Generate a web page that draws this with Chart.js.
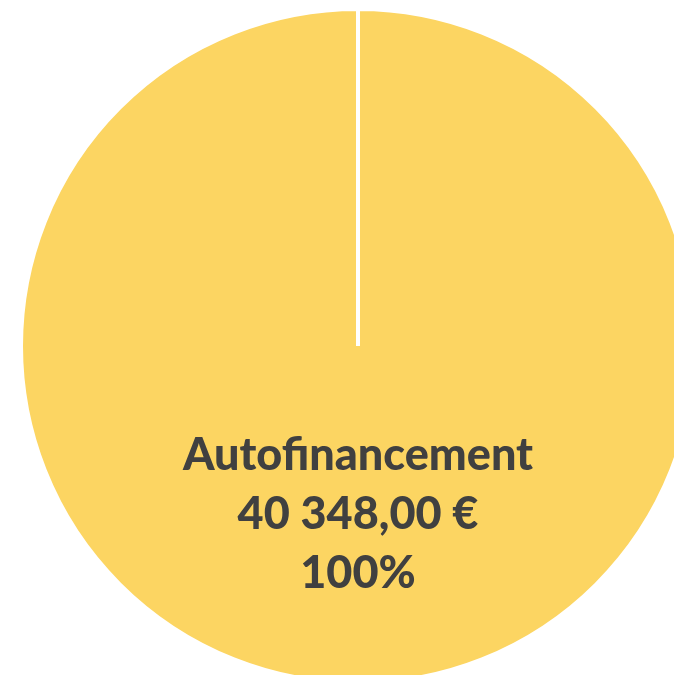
<!DOCTYPE html>
<html>
<head>
<meta charset="utf-8">
<script src="https://cdn.jsdelivr.net/npm/chart.js@4"></script>
<style>
  html, body { margin: 0; padding: 0; background: #fff; overflow: hidden; width: 674px; height: 675px; }
  #wrap { position: absolute; left: 0; top: -12px; width: 716px; height: 716px; }
</style>
</head>
<body>
<div id="wrap"><canvas id="pie"></canvas></div>
<script>
// Data
const categories = ['Autofinancement'];
const amounts = [40348.00];
const sliceColors = ['#FCD562'];

const total = amounts.reduce((a, b) => a + b, 0);

function fmtEuro(v) {
    const parts = v.toFixed(2).split('.');
    const intPart = parts[0].replace(/\B(?=(\d{3})+(?!\d))/g, ' ');
    return intPart + ',' + parts[1] + ' €';
}

// ── Labels inside slices ──
const sliceLabels = {
    id: 'sliceLabels',
    afterDatasetsDraw(chart) {
        const ctx = chart.ctx;
        const meta = chart.getDatasetMeta(0);
        ctx.save();
        ctx.fillStyle = '#404040';
        ctx.font = '900 45px Lato';
        ctx.textAlign = 'center';
        ctx.textBaseline = 'middle';
        meta.data.forEach((arc, i) => {
            const p = arc.tooltipPosition();
            const pct = Math.round(amounts[i] / total * 100) + '%';
            const lines = [categories[i], fmtEuro(amounts[i]), pct];
            const lh = 59;
            lines.forEach((t, k) => ctx.fillText(t, p.x, p.y + (k - 1) * lh));
        });
        ctx.restore();
    }
};

new Chart(document.getElementById('pie'), {
    type: 'pie',
    data: {
        labels: categories,
        datasets: [{
            data: amounts,
            backgroundColor: sliceColors,
            borderColor: '#ffffff',
            borderWidth: 4,
            radius: 337
        }]
    },
    options: {
        responsive: true,
        maintainAspectRatio: false,
        animation: false,
        layout: { padding: 0 },
        plugins: { legend: { display: false }, tooltip: { enabled: false } }
    },
    plugins: [sliceLabels]
});
</script>
</body>
</html>
